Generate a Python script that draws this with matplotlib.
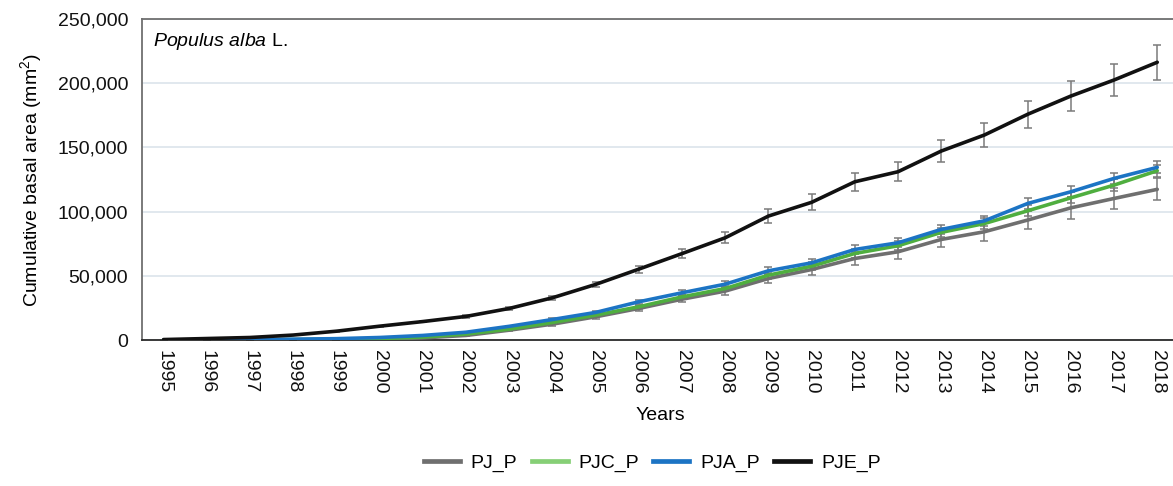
import matplotlib.pyplot as plt
from matplotlib.ticker import FuncFormatter

plt.rcParams['font.family'] = ['Liberation Sans', 'DejaVu Sans']
plt.rcParams['mathtext.fontset'] = 'custom'
plt.rcParams['mathtext.rm'] = 'Liberation Sans'
plt.rcParams['mathtext.it'] = 'Liberation Sans:italic'

years = list(range(1995, 2019))

# cumulative basal area (mm2)
pj_p = [0, 100, 200, 300, 400, 800, 1800, 3700, 7800, 12500, 18200, 24700, 31900,
        38200, 48000, 55000, 63600, 68800, 78400, 84400, 93500, 103000, 110300, 117400]
pjc_p = [0, 150, 300, 500, 800, 1300, 2400, 4800, 8600, 13800, 19500, 26000, 33700,
         40200, 50600, 57600, 67500, 73500, 83900, 90800, 100700, 110800, 120700, 131900]
pja_p = [0, 200, 500, 800, 1200, 2100, 3700, 6200, 10800, 16100, 21600, 29900, 36900,
         43600, 54000, 60200, 70600, 75800, 86200, 92900, 106400, 115500, 125900, 134500]
pje_p = [500, 1300, 2100, 4000, 7000, 10900, 14500, 18500, 24700, 33000, 43400, 55300, 67400,
         79700, 96600, 107300, 123300, 131100, 147200, 159700, 175800, 190000, 202500, 216300]

# standard errors
pj_err = [0, 0, 0, 0, 0, 200, 300, 500, 900, 1200, 1600, 2000, 2500,
          3000, 3800, 4500, 5000, 5500, 6000, 7000, 7300, 8500, 8000, 8500]
pjc_err = [0, 0, 0, 0, 0, 100, 200, 400, 600, 900, 1200, 1500, 1800,
           2200, 2600, 3000, 3300, 3500, 3800, 4000, 4200, 4400, 4500, 4600]
pja_err = [0, 0, 0, 0, 0, 100, 200, 400, 600, 900, 1200, 1500, 1800,
           2200, 2600, 3000, 3300, 3500, 3800, 4000, 4200, 4400, 4500, 4600]
pje_err = [0, 100, 200, 300, 400, 500, 700, 900, 1200, 1500, 2000, 2800, 3600,
           4300, 5400, 6300, 7000, 7500, 8500, 9000, 10500, 11500, 12500, 13500]

series = [
    ('PJ_P', pj_p, pj_err, '#6f6f6f', '#6f6f6f'),
    ('PJC_P', pjc_p, pjc_err, '#4fae3f', '#86cf76'),
    ('PJA_P', pja_p, pja_err, '#1c74c4', '#1c74c4'),
    ('PJE_P', pje_p, pje_err, '#111111', '#111111'),
]

fig = plt.figure(figsize=(11.73, 4.86), dpi=100)
ax = fig.add_axes([0.121, 0.3, 0.884, 0.661])

handles = []
for name, vals, err, col, legcol in series:
    ax.errorbar(years, vals, yerr=err, fmt='none', ecolor='#7a7a7a',
                elinewidth=1.1, capsize=3, capthick=1.1, zorder=2)
    ax.plot(years, vals, color=col, lw=2.6, zorder=3, solid_capstyle='round')
    h, = ax.plot([], [], color=legcol, lw=3.4, label=name)
    handles.append(h)

ax.set_xlim(1994.5, 2018.5)
ax.set_ylim(0, 250000)
ax.set_yticks([0, 50000, 100000, 150000, 200000, 250000])
ax.yaxis.set_major_formatter(FuncFormatter(lambda v, p: f'{int(v):,}'))
ax.set_xticks(years)
ax.set_xticklabels([str(y) for y in years], rotation=-90)
ax.tick_params(axis='both', length=0, labelsize=14, colors='#111111')
ax.tick_params(axis='x', pad=7)
ax.tick_params(axis='y', pad=10)

ax.grid(axis='y', color='#d9e2ea', lw=1.1)
ax.set_axisbelow(True)
ax.spines['top'].set_color('#707070')
ax.spines['left'].set_color('#707070')
ax.spines['bottom'].set_color('#2a2a2a')
ax.spines['right'].set_visible(False)
for s in ['top', 'left', 'bottom']:
    ax.spines[s].set_linewidth(1.3)

ax.set_xlabel('Years', fontsize=14, labelpad=10)
ax.set_ylabel('Cumulative basal area (mm$^{2}$)', fontsize=14, labelpad=10)

ax.text(0.011, 0.93, r'$\it{Populus\ alba}$ L.', transform=ax.transAxes,
        fontsize=14, va='center', ha='left')

fig.legend(handles=handles, loc='center', bbox_to_anchor=(0.556, 0.047), ncol=4,
           frameon=False, fontsize=14, handlelength=1.85, columnspacing=0.75,
           handletextpad=0.55)

plt.savefig('out.png', dpi=100)
plt.close()
